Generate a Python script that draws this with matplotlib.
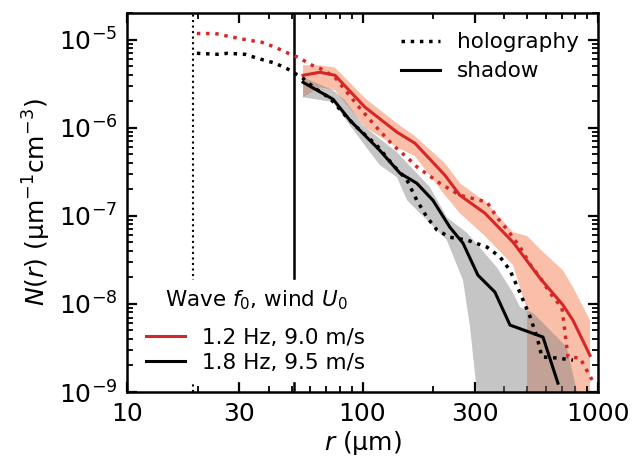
import numpy as np
import matplotlib
matplotlib.use("Agg")
import matplotlib.pyplot as plt
from matplotlib.ticker import FixedLocator, NullFormatter, LogLocator, FuncFormatter

# holography, 1.2 Hz / 9.0 m/s (red dotted)
holo_red_r = [19.8, 23.7, 26.8, 31.7, 37.4, 42.5, 48.3, 53.2, 61.1, 66.0, 76.4, 85.9,
              97.5, 115, 135, 156, 170, 213, 259, 278, 338, 372, 411, 467, 515, 567,
              626, 703, 746, 839, 944]
holo_red_n = [1.17e-5, 1.17e-5, 1.09e-5, 1.0e-5, 9.3e-6, 8.2e-6, 7.0e-6, 6.3e-6, 5.1e-6,
              4.7e-6, 3.73e-6, 2.52e-6, 1.66e-6, 1.0e-6, 6.3e-7, 4.5e-7, 3.6e-7, 2.34e-7,
              1.71e-7, 1.63e-7, 1.43e-7, 9.6e-8, 7.0e-8, 4.4e-8, 2.8e-8, 2.0e-8, 1.33e-8,
              9.0e-9, 2.5e-9, 2.43e-9, 1.37e-9]

# holography, 1.8 Hz / 9.5 m/s (black dotted)
holo_blk_r = [19.8, 24.3, 26.8, 31.7, 36.0, 42.5, 48.3, 51.6, 55.9, 61.6, 72.8, 85.9,
              97.5, 115, 135, 154.5, 170, 188, 207, 235, 278, 338, 384, 423, 467, 515,
              551, 578, 669, 783]
holo_blk_n = [6.98e-6, 6.8e-6, 6.98e-6, 6.8e-6, 6.1e-6, 5.4e-6, 4.6e-6, 4.14e-6, 3.64e-6,
              2.9e-6, 2.15e-6, 1.31e-6, 9.35e-7, 6.3e-7, 3.75e-7, 2.54e-7, 1.5e-7, 9.6e-8,
              6.9e-8, 5.7e-8, 5.3e-8, 4.4e-8, 3.4e-8, 2.4e-8, 1.33e-8, 7.1e-9, 4.2e-9,
              2.5e-9, 2.43e-9, 2.3e-9]

# shadow, 1.2 Hz (red solid) and band
shad_red_r = [55.9, 66.0, 76.4, 102.6, 140, 167, 224, 259, 331, 436, 567, 710, 783, 925]
shad_red_n = [3.93e-6, 4.25e-6, 3.93e-6, 1.70e-6, 8.9e-7, 6.65e-7, 2.88e-7, 1.71e-7,
              1.07e-7, 5.0e-8, 1.96e-8, 9.7e-9, 6.5e-9, 2.6e-9]
band_red_hi_r = [55.9, 66.0, 76.4, 102.6, 140, 167, 224, 259, 331, 436, 500, 567, 710, 783, 925]
band_red_hi_n = [5.1e-6, 5.1e-6, 4.8e-6, 2.15e-6, 1.12e-6, 8.0e-7, 3.95e-7, 2.34e-7,
                 1.46e-7, 6.5e-8, 5.9e-8, 4.2e-8, 2.4e-8, 1.55e-8, 6.5e-9]
band_red_lo_r = [55.9, 66.0, 76.4, 102.6, 140, 167, 224, 259, 331, 436, 500, 500, 925]
band_red_lo_n = [2.21e-6, 2.87e-6, 2.66e-6, 1.01e-6, 6.0e-7, 4.74e-7, 1.71e-7, 1.07e-7,
                 5.9e-8, 2.75e-8, 8.5e-9, 1e-10, 1e-10]

# shadow, 1.8 Hz (black solid) and band
shad_blk_r = [55.9, 75.0, 88.5, 118.6, 144.3, 170, 199, 235, 267, 309, 365, 423, 584, 676]
shad_blk_n = [3.27e-6, 2.1e-6, 1.21e-6, 5.5e-7, 3.04e-7, 2.34e-7, 1.5e-7, 7.4e-8, 4.9e-8,
              2.12e-8, 1.36e-8, 5.75e-9, 4.2e-9, 1.26e-9]
band_blk_hi_r = [55.9, 75.0, 84.3, 100.5, 140, 193.5, 228, 278, 372, 436, 467, 530, 669,
                 738, 783, 815, 815]
band_blk_hi_n = [3.73e-6, 2.66e-6, 2.05e-6, 1.06e-6, 5.26e-7, 2.11e-7, 9.6e-8, 6.4e-8,
                 2.6e-8, 1.33e-8, 9.2e-9, 7.9e-9, 4.2e-9, 3.2e-9, 1.6e-9, 1e-9, 1e-10]
band_blk_lo_r = [55.9, 75.0, 88.5, 104.4, 118.6, 140, 154.5, 175.5, 207, 228, 267, 286,
                 306, 306]
band_blk_lo_n = [2.21e-6, 1.95e-6, 1.06e-6, 5.84e-7, 3.75e-7, 2.74e-7, 1.5e-7, 1.07e-7,
                 6.9e-8, 5.3e-8, 1.86e-8, 5.5e-9, 1e-9, 1e-10]

holo_limit = 19.0     # dotted vertical line
shadow_limit = 51.0   # solid vertical line

RED = "#d62728"

fig = plt.figure(figsize=(6.33, 4.65), dpi=100)
ax = fig.add_axes([127 / 633, 73 / 465, 471 / 633, 379 / 465])

ax.fill(np.concatenate([band_red_hi_r, band_red_lo_r[::-1]]),
        np.concatenate([band_red_hi_n, band_red_lo_n[::-1]]),
        color="#f9bfa9", lw=0, zorder=1)
ax.fill(np.concatenate([band_blk_hi_r, band_blk_lo_r[::-1]]),
        np.concatenate([band_blk_hi_n, band_blk_lo_n[::-1]]),
        color="gray", alpha=0.45, lw=0, zorder=2)

ax.axvline(holo_limit, color="k", ls=":", lw=1.5, zorder=3)
ax.axvline(shadow_limit, color="k", lw=1.8, zorder=3)

ax.plot(holo_red_r, holo_red_n, ":", color=RED, lw=2.5, zorder=4)
ax.plot(holo_blk_r, holo_blk_n, ":", color="k", lw=2.5, zorder=4)
l_red, = ax.plot(shad_red_r, shad_red_n, "-", color=RED, lw=2.2, zorder=5)
l_blk, = ax.plot(shad_blk_r, shad_blk_n, "-", color="k", lw=2.2, zorder=5)

ax.set_xscale("log")
ax.set_yscale("log")
ax.set_xlim(10, 1000)
ax.set_ylim(1e-9, 2e-5)

ax.xaxis.set_major_locator(FixedLocator([10, 30, 100, 300, 1000]))
ax.xaxis.set_major_formatter(FuncFormatter(lambda v, p: f"{v:g}"))
ax.xaxis.set_minor_locator(FixedLocator([20, 40, 50, 60, 70, 80, 90, 200, 400, 500, 600, 700, 800, 900]))
ax.xaxis.set_minor_formatter(NullFormatter())
ax.yaxis.set_major_locator(LogLocator(base=10, numticks=10))
ax.yaxis.set_minor_locator(LogLocator(base=10, subs=np.arange(2, 10), numticks=20))
ax.yaxis.set_minor_formatter(NullFormatter())

ax.tick_params(which="both", direction="in", top=True, right=True, labelsize=18, pad=7)
ax.tick_params(which="major", length=7, width=1.6)
ax.tick_params(which="minor", length=4, width=1.3)
for s in ax.spines.values():
    s.set_linewidth(1.8)

ax.set_xlabel("$r$ (μm)", fontsize=18, labelpad=2)
ax.set_ylabel("$N(r)$ (μm$^{-1}$cm$^{-3}$)", fontsize=18, labelpad=4)

leg1 = ax.legend([l_red, l_blk], ["1.2 Hz, 9.0 m/s", "1.8 Hz, 9.5 m/s"],
                 title="Wave $f_0$, wind $U_0$", loc="lower left", fontsize=15.5,
                 title_fontsize=15.5, frameon=True, facecolor="white", edgecolor="white",
                 framealpha=1, fancybox=False, labelspacing=0.22, handlelength=1.8,
                 borderaxespad=0.5)
leg1._legend_box.sep = 11.5  # extra room under the legend title
leg1.set_zorder(10)
ax.add_artist(leg1)

h1, = ax.plot([], [], ":", color="k", lw=2.5)
h2, = ax.plot([], [], "-", color="k", lw=2.2)
leg2 = ax.legend([h1, h2], ["holography", "shadow"], loc="upper right", fontsize=15.5,
                 frameon=False, labelspacing=0.42, handlelength=1.8)

fig.savefig("out.png", dpi=100)
